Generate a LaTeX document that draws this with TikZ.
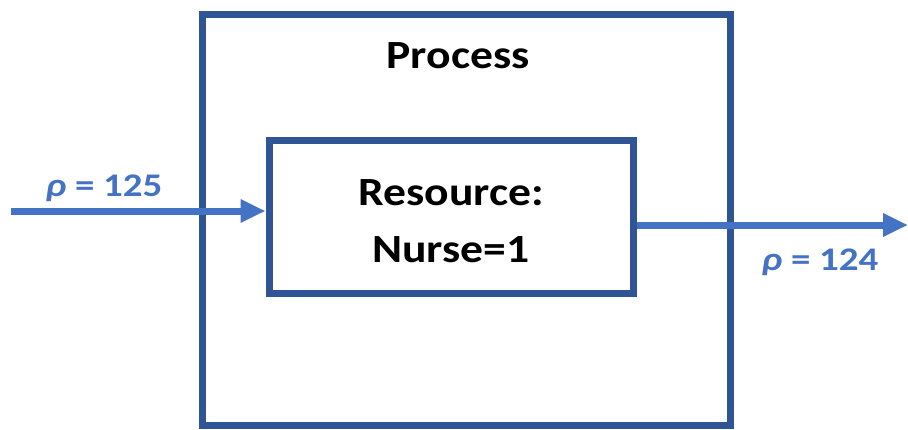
\documentclass[tikz,border=0pt]{standalone}
\usepackage{fontspec}
\setmainfont{Carlito}
\newfontfamily\widefont[FakeStretch=1.14]{Carlito}
\newfontfamily\lblfont[FakeStretch=1.18]{Carlito}
\usetikzlibrary{arrows.meta}
\definecolor{boxblue}{HTML}{2F5597}
\definecolor{arrblue}{HTML}{4472C4}
\begin{document}
\begin{tikzpicture}[x=1pt,y=-1pt,
  frame/.style={draw=boxblue,line width=7pt,inner sep=0pt},
  flow/.style={draw=arrblue,line width=7pt,-{Triangle[length=25pt,width=22pt]}},
  lbl/.style={text=arrblue,font=\lblfont\bfseries\fontsize{33}{38}\selectfont,anchor=base},
  ttl/.style={font=\widefont\bfseries\fontsize{40}{57}\selectfont,align=center}]
\useasboundingbox (0,0) rectangle (908,429);
\node[frame,minimum width=528pt,minimum height=411pt] (proc) at (466,219.5) {};
\node[ttl,anchor=base] (ptitle) at (458,68) {Process};
\node[frame,minimum width=364pt,minimum height=153pt] (res) at (451,216.5) {};
\node[ttl,anchor=base] (rtext) at (451,262) {Resource:\\Nurse=1};
\coordinate (inA) at (11,211);
\coordinate (outB) at (908,225);
\draw[flow] (inA) -- (inA -| res.west);
\draw[flow] (res.east |- outB) -- (outB);
\node[lbl] (l1) at (104,196) {\textit{ρ} = 125};
\node[lbl] (l2) at (820,270) {\textit{ρ} = 124};
\end{tikzpicture}
\end{document}
